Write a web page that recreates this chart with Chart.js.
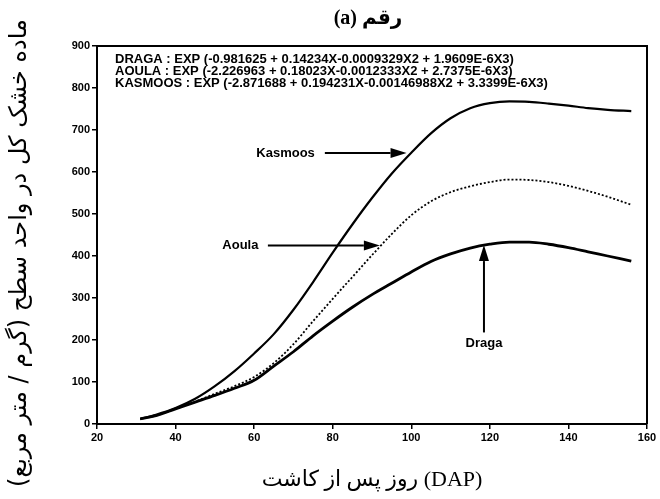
<!DOCTYPE html>
<html>
<head>
<meta charset="utf-8">
<script src="https://cdn.jsdelivr.net/npm/chart.js@4"></script>
<style>
  html, body { margin: 0; padding: 0; background: #fff; }
  #wrap { width: 660px; height: 499px; }
</style>
</head>
<body>
<div id="wrap"><canvas id="dmChart"></canvas></div>
<script>
// days after planting (DAP) and total dry matter per unit area
const days = [31, 35, 40, 45, 50, 55, 60, 65, 70, 75, 80, 85, 90, 95, 100, 105, 110, 115, 120, 125, 130, 135, 140, 145, 150, 156];
const kasmoos = [12, 22, 38, 60, 90, 126, 168, 214, 272, 338, 408, 475, 538, 596, 646, 692, 728, 752, 764, 768, 767, 763, 758, 752, 748, 745];
const aoula = [12, 20, 36, 53, 72, 90, 112, 145, 190, 245, 298, 350, 402, 452, 497, 530, 552, 566, 576, 582, 581, 576, 567, 555, 541, 522];
const draga = [12, 20, 36, 52, 68, 85, 104, 138, 172, 210, 245, 278, 308, 335, 362, 387, 405, 419, 428, 433, 433, 428, 420, 410, 400, 388];

const xTicks = [20, 40, 60, 80, 100, 120, 140, 160];
const yTicks = [0, 100, 200, 300, 400, 500, 600, 700, 800, 900];

const chartTitle = '(a) رقم';
const xTitle = 'روز پس از کاشت (DAP)';
const yTitle = '\u200Fماده خشک کل در واحد سطح (گرم / متر مربع)\u200F';

const equations = [
  'DRAGA : EXP (-0.981625 + 0.14234X-0.0009329X2 + 1.9609E-6X3)',
  'AOULA : EXP (-2.226963 + 0.18023X-0.0012333X2 + 2.7375E-6X3)',
  'KASMOOS : EXP (-2.871688 + 0.194231X-0.00146988X2 + 3.3399E-6X3)'
];

// callout labels, in data units
const noteNames = ['Kasmoos', 'Aoula', 'Draga'];
const noteText = [[68, 645], [56.5, 425], [118.5, 192]];
const noteFrom = [[78, 645], [63.5, 425], [118.5, 218]];
const noteTo = [[98.8, 645], [92, 425], [118.5, 426]];

const toPoints = (vals) => days.map((d, i) => ({ x: d, y: vals[i] }));

const framePlugin = {
  id: 'frame',
  afterDraw: (chart) => {
    const { ctx, chartArea } = chart;
    const midX = (chartArea.left + chartArea.right) / 2;
    ctx.save();
    ctx.strokeStyle = '#000';
    ctx.fillStyle = '#000';
    ctx.lineWidth = 2;
    ctx.beginPath();
    ctx.moveTo(chartArea.left, chartArea.top);
    ctx.lineTo(chartArea.right, chartArea.top);
    ctx.lineTo(chartArea.right, chartArea.bottom);
    ctx.stroke();

    // title, centred over the plot
    ctx.textAlign = 'center';
    ctx.textBaseline = 'middle';
    ctx.font = 'bold 20px "Liberation Serif", "DejaVu Sans"';
    ctx.fillText(chartTitle, midX - 4, 19);

    // y axis title, rotated, a little lower than the plot centre as in the original
    ctx.translate(20, (chartArea.top + chartArea.bottom) / 2 + 18);
    ctx.rotate(-Math.PI / 2);
    ctx.font = '24px "DejaVu Sans"';
    ctx.fillText(yTitle, 0, 0);
    ctx.restore();
  }
};

const drawArrow = (ctx, x1, y1, x2, y2) => {
  const ang = Math.atan2(y2 - y1, x2 - x1);
  const len = 16, half = 5;
  ctx.beginPath();
  ctx.moveTo(x1, y1);
  ctx.lineTo(x2 - Math.cos(ang) * len, y2 - Math.sin(ang) * len);
  ctx.stroke();
  ctx.beginPath();
  ctx.moveTo(x2, y2);
  ctx.lineTo(x2 - Math.cos(ang) * len - Math.sin(ang) * half, y2 - Math.sin(ang) * len + Math.cos(ang) * half);
  ctx.lineTo(x2 - Math.cos(ang) * len + Math.sin(ang) * half, y2 - Math.sin(ang) * len - Math.cos(ang) * half);
  ctx.closePath();
  ctx.fill();
};

const notesPlugin = {
  id: 'notes',
  afterDatasetsDraw: (chart) => {
    const { ctx, chartArea, scales } = chart;
    ctx.save();
    ctx.fillStyle = '#000';
    ctx.strokeStyle = '#000';
    ctx.textBaseline = 'middle';
    ctx.textAlign = 'left';
    ctx.font = 'bold 13px "Liberation Sans"';
    equations.forEach((eq, i) => {
      ctx.fillText(eq, chartArea.left + 18, chartArea.top + 13 + i * 12);
    });
    ctx.textAlign = 'center';
    ctx.lineWidth = 2;
    const px = (p) => [scales.x.getPixelForValue(p[0]), scales.y.getPixelForValue(p[1])];
    noteNames.forEach((name, i) => {
      const t = px(noteText[i]);
      ctx.fillText(name, t[0], t[1]);
      const a = px(noteFrom[i]);
      const b = px(noteTo[i]);
      drawArrow(ctx, a[0], a[1], b[0], b[1]);
    });
    ctx.restore();
  }
};

const tickFont = { family: '"Liberation Sans"', size: 11, weight: 'bold' };

const ctx = document.getElementById('dmChart').getContext('2d');
const dmChart = new Chart(ctx, {
  type: 'line',
  data: {
    datasets: [
      {
        label: 'Kasmoos',
        data: toPoints(kasmoos),
        borderColor: '#000',
        borderWidth: 2.2,
        pointRadius: 0,
        cubicInterpolationMode: 'monotone'
      },
      {
        label: 'Aoula',
        data: toPoints(aoula),
        borderColor: '#000',
        borderWidth: 1.8,
        borderDash: [2, 2],
        pointRadius: 0,
        cubicInterpolationMode: 'monotone'
      },
      {
        label: 'Draga',
        data: toPoints(draga),
        borderColor: '#000',
        borderWidth: 2.8,
        pointRadius: 0,
        cubicInterpolationMode: 'monotone'
      }
    ]
  },
  options: {
    responsive: true,
    maintainAspectRatio: false,
    animation: false,
    layout: { padding: { left: 0, right: 13, top: 46, bottom: 0 } },
    plugins: {
      legend: { display: false },
      tooltip: { enabled: false },
      title: { display: false }
    },
    scales: {
      x: {
        type: 'linear',
        min: 20,
        max: 160,
        afterBuildTicks: (s) => { s.ticks = xTicks.map(v => ({ value: v })); },
        afterFit: (s) => { s.height = 75; },
        ticks: { color: '#000', font: tickFont, padding: 2, maxRotation: 0 },
        grid: { drawOnChartArea: false, color: '#000', tickLength: 5, lineWidth: 1.5 },
        border: { color: '#000', width: 2 },
        title: {
          display: true,
          text: xTitle,
          color: '#000',
          font: { family: '"Liberation Serif", "DejaVu Sans"', size: 22 },
          padding: { top: 4, bottom: 6 }
        }
      },
      y: {
        min: 0,
        max: 900,
        afterBuildTicks: (s) => { s.ticks = yTicks.map(v => ({ value: v })); },
        afterFit: (s) => { s.width = 97; },
        ticks: { color: '#000', font: tickFont, padding: 2 },
        grid: { drawOnChartArea: false, color: '#000', tickLength: 5, lineWidth: 1.5 },
        border: { color: '#000', width: 2 }
      }
    }
  },
  plugins: [framePlugin, notesPlugin]
});
</script>
</body>
</html>
